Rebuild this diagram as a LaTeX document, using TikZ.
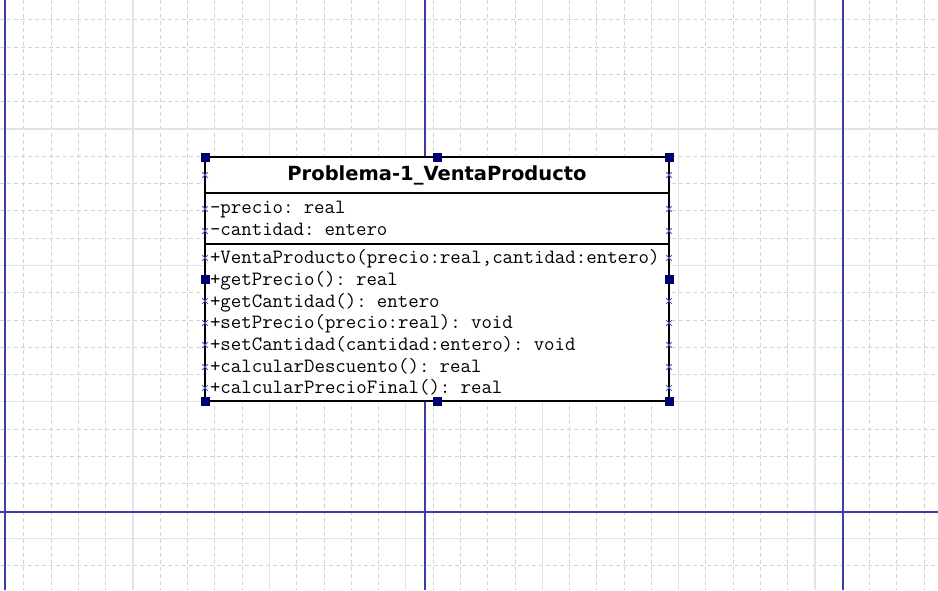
\documentclass[tikz,border=0pt]{standalone}
\usepackage{fontspec}
\usepackage{tikz}
\usetikzlibrary{positioning, calc, shapes.misc}
\newfontfamily\umltitle{DejaVu Sans}
\definecolor{pageblue}{HTML}{3C3CA6}
\definecolor{gridmajor}{HTML}{DCE5E8}
\definecolor{gridminor}{HTML}{CDD5D8}
\definecolor{handlenavy}{HTML}{000070}
\definecolor{markblue}{HTML}{5A5AC8}

\begin{document}
\begin{tikzpicture}[
        x=1pt, y=-1pt,
        minorgrid/.style={draw=gridminor, line width=0.8pt, dash pattern=on 4pt off 3pt},
        majorgrid/.style={draw=gridmajor, line width=1.2pt},
        pageline/.style={draw=pageblue, line width=1.4pt},
        compartment/.style={rectangle, draw=black, line width=2pt, fill=white, outer sep=0pt, minimum width=464pt, inner xsep=5pt, inner ysep=0pt, text width=454pt, align=left, font=\ttfamily\fontsize{20.3}{21.7}\selectfont},
        titlebox/.style={compartment, align=center, minimum height=36pt, font=\umltitle\bfseries\fontsize{19.5}{22}\selectfont},
        handle/.style={rectangle, fill=handlenavy, minimum size=9pt, inner sep=0pt},
        crossmark/.style={cross out, draw=markblue, line width=0.8pt, minimum size=5pt, inner sep=0pt}
        ]
        \useasboundingbox (0,0) rectangle (938,590);
        \fill[white] (0,0) rectangle (938,590);

        % Grid
        \foreach \k in {-4,...,29}
            \draw[minorgrid] (133+27.28*\k,0) -- (133+27.28*\k,590);
        \foreach \k in {-4,...,16}
            \draw[minorgrid] (0,129+27.28*\k) -- (938,129+27.28*\k);
        \foreach \k in {0,...,5}
            \draw[majorgrid] (133+136.4*\k,0) -- (133+136.4*\k,590);
        \foreach \k in {0,...,3}
            \draw[majorgrid] (0,129+136.4*\k) -- (938,129+136.4*\k);

        % Page breaks
        \foreach \px in {5,425,843}
            \draw[pageline] (\px,0) -- (\px,590);
        \draw[pageline] (0,512) -- (938,512);

        % Class compartments
        \node[titlebox] (title) at (437,175) {Problema-1\_VentaProducto};
        \node[compartment, minimum height=51pt, below=0pt of title] (attrs) {-precio: real\\-cantidad: entero};
        \node[compartment, minimum height=157pt, below=0pt of attrs] (ops) {+VentaProducto(precio:real,cantidad:entero)\\+getPrecio(): real\\+getCantidad(): entero\\+setPrecio(precio:real): void\\+setCantidad(cantidad:entero): void\\+calcularDescuento(): real\\+calcularPrecioFinal(): real};

        % Row markers
        \foreach \r [count=\i] in {175,209,231,258,280,301,323,345,367,388} {
            \node[crossmark] (xl-\i) at (205,\r) {};
            \node[crossmark] (xr-\i) at (669,\r) {};
        }

        % Selection handles
        \node[handle] (h-nw) at (title.north west) {};
        \node[handle] (h-n) at (title.north) {};
        \node[handle] (h-ne) at (title.north east) {};
        \node[handle] (h-w) at ($(title.north west)!0.5!(ops.south west)$) {};
        \node[handle] (h-e) at ($(title.north east)!0.5!(ops.south east)$) {};
        \node[handle] (h-sw) at (ops.south west) {};
        \node[handle] (h-s) at (ops.south) {};
        \node[handle] (h-se) at (ops.south east) {};
\end{tikzpicture}
\end{document}
